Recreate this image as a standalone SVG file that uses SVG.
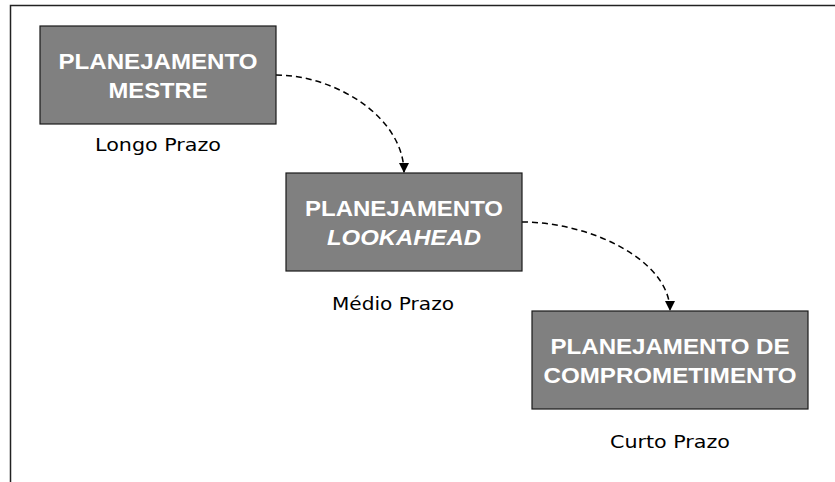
<svg xmlns="http://www.w3.org/2000/svg" width="835" height="482" viewBox="0 0 835 482">
<style>
.box{fill:#808080;stroke:#1a1a1a;stroke-width:1.2}
.bt{font-family:"Liberation Sans",Arial,sans-serif;font-weight:bold;font-size:22px;fill:#ffffff;text-anchor:middle}
.it{font-style:italic}
.lbl{font-family:"DejaVu Sans",Verdana,sans-serif;font-size:17px;fill:#000000;text-anchor:middle}
.conn{fill:none;stroke:#000000;stroke-width:1.5;stroke-dasharray:6,4}
.frame{fill:none;stroke:#222222;stroke-width:1.5}
</style>
<defs>
<marker id="ah" viewBox="0 0 10 10" refX="10" refY="5" markerWidth="10" markerHeight="10" markerUnits="userSpaceOnUse" orient="auto">
<path d="M0,0 L10,5 L0,10 Z" fill="#000000"/>
</marker>
</defs>
<rect x="0" y="0" width="835" height="482" fill="#ffffff"/>
<path class="frame" d="M10.5,482 L10.5,5.5 L835,5.5"/>
<g id="connectors">
<path class="conn" d="M276,75 C335,75 404,117 404,173" marker-end="url(#ah)"/>
<path class="conn" d="M522,222 C590,222 670,260 670,311" marker-end="url(#ah)"/>
</g>
<g id="node-mestre">
<rect class="box" x="40" y="26" width="236" height="98"/>
<text class="bt" x="158" y="69" textLength="199" lengthAdjust="spacingAndGlyphs">PLANEJAMENTO</text>
<text class="bt" x="158" y="98" textLength="99" lengthAdjust="spacingAndGlyphs">MESTRE</text>
<text class="lbl" x="158" y="151" textLength="126" lengthAdjust="spacingAndGlyphs">Longo Prazo</text>
</g>
<g id="node-lookahead">
<rect class="box" x="286" y="173" width="236" height="98"/>
<text class="bt" x="404" y="216" textLength="198" lengthAdjust="spacingAndGlyphs">PLANEJAMENTO</text>
<text class="bt it" x="404" y="245" textLength="154" lengthAdjust="spacingAndGlyphs">LOOKAHEAD</text>
<text class="lbl" x="393" y="310" textLength="122" lengthAdjust="spacingAndGlyphs">Médio Prazo</text>
</g>
<g id="node-comprometimento">
<rect class="box" x="532" y="311" width="276" height="98"/>
<text class="bt" x="670" y="354" textLength="239" lengthAdjust="spacingAndGlyphs">PLANEJAMENTO DE</text>
<text class="bt" x="670" y="383" textLength="253" lengthAdjust="spacingAndGlyphs">COMPROMETIMENTO</text>
<text class="lbl" x="670" y="448" textLength="120" lengthAdjust="spacingAndGlyphs">Curto Prazo</text>
</g>
</svg>
